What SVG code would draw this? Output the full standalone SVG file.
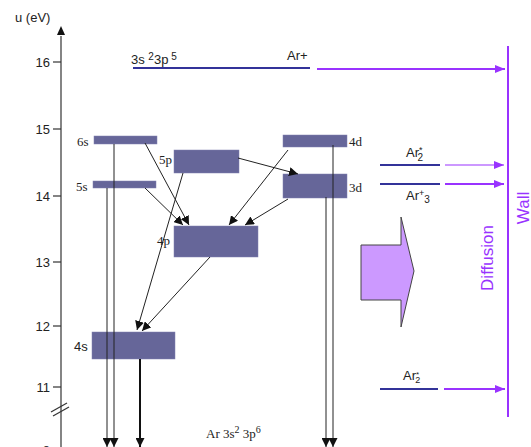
<svg xmlns="http://www.w3.org/2000/svg" width="531" height="447" viewBox="0 0 531 447">
<defs>
<style>
.t{font-family:"Liberation Sans",Arial,sans-serif;font-size:13px;fill:#222}
.s{font-family:"Liberation Serif","Times New Roman",serif;font-size:13px;fill:#222}
.lvl{fill:#666699;stroke:#8080b0;stroke-width:0.5}
.ax{stroke:#333;stroke-width:1.2;fill:none}
.ln{stroke:#222;stroke-width:1;fill:none}
.bl{stroke:#333399;stroke-width:2}
.pu{stroke:#9933ff;stroke-width:2;fill:none}
.pt{font-family:"Liberation Sans",Arial,sans-serif;font-size:17px;fill:#9933ff}
</style>
<marker id="ah" viewBox="0 0 10 10" refX="10" refY="5" markerWidth="9" markerHeight="9" markerUnits="userSpaceOnUse" orient="auto"><path d="M0,0 L10,5 L0,10 z" fill="#111"/></marker>
<marker id="ap" viewBox="0 0 10 10" refX="10" refY="5" markerWidth="10" markerHeight="10" markerUnits="userSpaceOnUse" orient="auto"><path d="M0,1 L10,5 L0,9 z" fill="#9933ff"/></marker>
</defs>
<rect width="531" height="447" fill="#fff"/>
<g id="axis">
<line x1="61" y1="36" x2="61" y2="447" class="ax"/>
<path d="M57,35 L61,26 L65,35 z" fill="#111"/>
<text x="15" y="22" class="t">u (eV)</text>
<g class="ax">
<line x1="53" y1="62" x2="61" y2="62"/>
<line x1="53" y1="129" x2="61" y2="129"/>
<line x1="53" y1="196" x2="61" y2="196"/>
<line x1="53" y1="262" x2="61" y2="262"/>
<line x1="53" y1="326" x2="61" y2="326"/>
<line x1="53" y1="387" x2="61" y2="387"/>
<line x1="51" y1="412" x2="67" y2="403"/>
<line x1="53" y1="416" x2="69" y2="407"/>
</g>
<g class="t" text-anchor="end">
<text x="50" y="67">16</text>
<text x="50" y="134">15</text>
<text x="50" y="201">14</text>
<text x="50" y="267">13</text>
<text x="50" y="331">12</text>
<text x="50" y="392">11</text>
<text x="50" y="455">8</text>
</g>
</g>
<g id="ion">
<line x1="133" y1="68" x2="310" y2="68" class="bl"/>
<text x="131" y="64" class="t">3s <tspan dy="-4" font-size="10">2</tspan><tspan dy="4">3p</tspan><tspan dy="-4" font-size="10"> 5</tspan></text>
<text x="287" y="60" class="t">Ar+</text>
</g>
<g id="level6s"><rect x="94" y="136" width="63" height="8" class="lvl"/><text x="77" y="146" class="s">6s</text></g>
<g id="level5s"><rect x="93" y="181" width="63" height="7" class="lvl"/><text x="76" y="191" class="s">5s</text></g>
<g id="level5p"><rect x="174" y="150" width="65" height="23" class="lvl"/><text x="159" y="164" class="s">5p</text></g>
<g id="level4p"><rect x="174" y="226" width="84" height="31" class="lvl"/><text x="157" y="245" class="s">4p</text></g>
<g id="level4d"><rect x="283" y="135" width="64" height="12" class="lvl"/><text x="349" y="146" class="s">4d</text></g>
<g id="level3d"><rect x="283" y="174" width="64" height="24" class="lvl"/><text x="349" y="192" class="s">3d</text></g>
<g id="level4s"><rect x="92" y="332" width="83" height="27" class="lvl"/><text x="74" y="351" class="t">4s</text></g>
<g id="ground"><text x="206" y="438" class="s">Ar 3s<tspan dy="-5" font-size="10">2</tspan><tspan dy="5"> 3p</tspan><tspan dy="-5" font-size="10">6</tspan></text></g>
<g id="dimers">
<line x1="380" y1="165" x2="440" y2="165" class="bl"/>
<text x="406" y="157" class="t">Ar<tspan dy="-4" font-size="9">*</tspan><tspan dx="-5" dy="8" font-size="10">2</tspan></text>
<line x1="380" y1="184" x2="440" y2="184" class="bl"/>
<text x="406" y="200" class="t">Ar<tspan font-size="9" dy="-4">+</tspan><tspan dy="7" font-size="10">3</tspan></text>
<line x1="380" y1="389" x2="438" y2="389" class="bl"/>
<text x="403" y="380" class="t" font-size="10">Ar<tspan dy="-3" font-size="8">*</tspan><tspan dx="-4" dy="6" font-size="9">2</tspan></text>
</g>
<g id="diffusion">
<path d="M361,245 L401,245 L401,217 L414,271 L401,327 L401,300 L361,300 Z" fill="#cc99ff" stroke="#444" stroke-width="1"/>
<text transform="translate(493,258) rotate(-90)" class="pt" text-anchor="middle">Diffusion</text>
</g>
<g id="wall">
<line x1="508" y1="46" x2="508" y2="417" class="pu"/>
<text transform="translate(529,208) rotate(-90)" class="pt" text-anchor="middle">Wall</text>
</g>
<g id="connectors">
<line x1="114" y1="144" x2="114" y2="447" class="ln" marker-end="url(#ah)"/>
<line x1="107" y1="188" x2="107" y2="447" class="ln" marker-end="url(#ah)"/>
<line x1="140" y1="359" x2="140" y2="447" stroke="#111" stroke-width="2" marker-end="url(#ah)"/>
<line x1="333" y1="145" x2="333" y2="447" class="ln" marker-end="url(#ah)"/>
<line x1="326" y1="197" x2="326" y2="447" class="ln" marker-end="url(#ah)"/>
<line x1="145" y1="143" x2="189" y2="225" class="ln" marker-end="url(#ah)"/>
<line x1="145" y1="188" x2="183" y2="225" class="ln" marker-end="url(#ah)"/>
<line x1="238" y1="158" x2="298" y2="174" class="ln" marker-end="url(#ah)"/>
<line x1="288" y1="150" x2="229" y2="225" class="ln" marker-end="url(#ah)"/>
<line x1="288" y1="199" x2="245" y2="225" class="ln" marker-end="url(#ah)"/>
<line x1="183" y1="173" x2="137" y2="330" class="ln" marker-end="url(#ah)"/>
<line x1="210" y1="257" x2="142" y2="331" class="ln" marker-end="url(#ah)"/>
<line x1="317" y1="69" x2="505" y2="69" class="pu" marker-end="url(#ap)"/>
<line x1="445" y1="165" x2="504" y2="165" stroke="#9933ff" stroke-width="1.2" marker-end="url(#ap)"/>
<line x1="445" y1="184" x2="504" y2="184" class="pu" marker-end="url(#ap)"/>
<line x1="444" y1="389" x2="505" y2="389" class="pu" marker-end="url(#ap)"/>
</g>
</svg>
